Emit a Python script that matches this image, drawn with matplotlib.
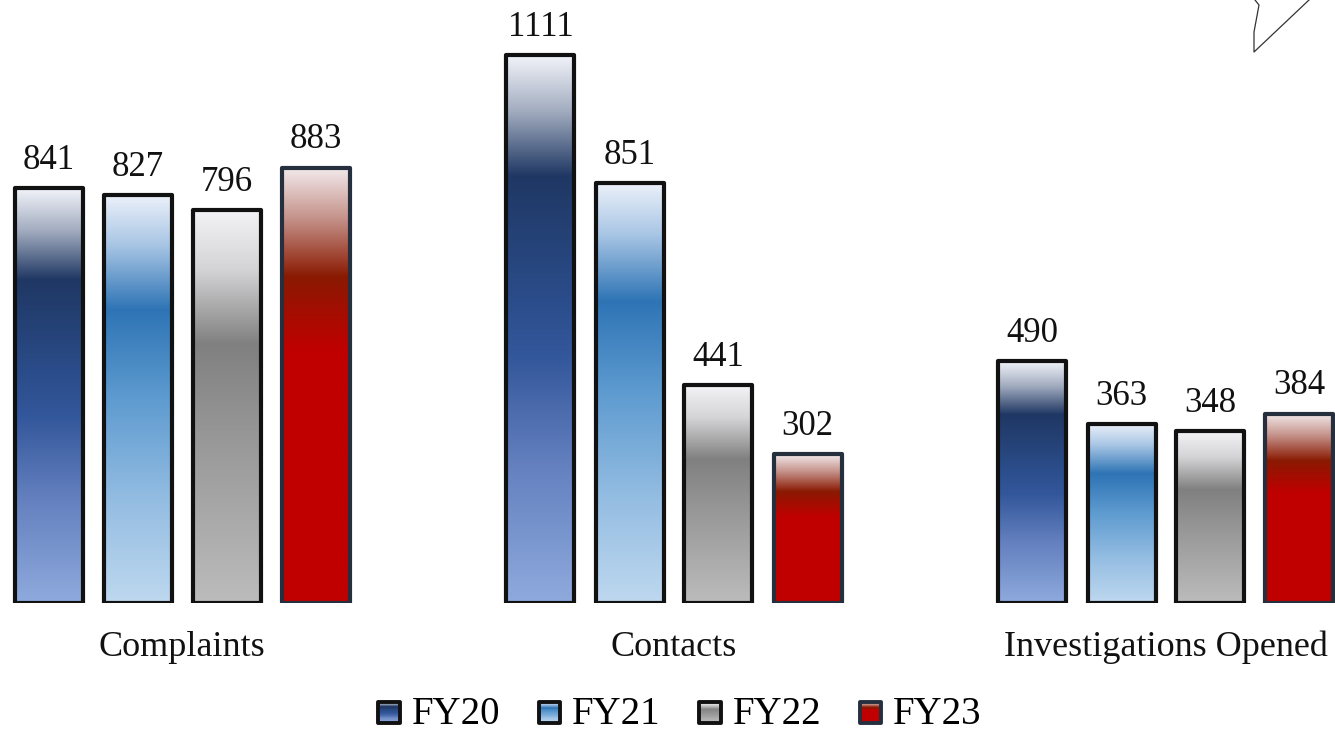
import numpy as np
import matplotlib
matplotlib.use("Agg")
import matplotlib.pyplot as plt
from matplotlib.colors import LinearSegmentedColormap
from matplotlib.patches import Rectangle
from matplotlib.legend_handler import HandlerBase

categories = ["Complaints", "Contacts", "Investigations Opened"]
series = ["FY20", "FY21", "FY22", "FY23"]
fy20 = [841, 1111, 490]
fy21 = [827, 851, 363]
fy22 = [796, 441, 348]
fy23 = [883, 302, 384]
values = [fy20, fy21, fy22, fy23]

# vertical gradient stops (position from top, colour) for each series
gradients = {
    "FY20": [(0.0, "#f1f3f9"), (0.10, "#a3adc0"), (0.22, "#1f3763"),
             (0.45, "#2b4d8b"), (0.55, "#33579b"), (0.75, "#6480bf"), (1.0, "#8eaadd")],
    "FY21": [(0.0, "#eaf0f9"), (0.12, "#a9c6e5"), (0.28, "#2e74b5"),
             (0.50, "#5e9bd0"), (0.75, "#94bde2"), (1.0, "#bed8ef")],
    "FY22": [(0.0, "#f3f3f5"), (0.15, "#d4d4d6"), (0.34, "#808080"),
             (0.55, "#959595"), (1.0, "#bcbcbc")],
    "FY23": [(0.0, "#f3eaec"), (0.12, "#c38f86"), (0.25, "#8a1a02"),
             (0.42, "#c00000"), (1.0, "#c00000")],
}
edges = {"FY20": "#111111", "FY21": "#111111", "FY22": "#111111", "FY23": "#262f3d"}

cmaps = {k: LinearSegmentedColormap.from_list(k, v) for k, v in gradients.items()}

plt.rcParams["font.family"] = ["Liberation Serif", "DejaVu Serif"]

W, H = 1335, 731
fig = plt.figure(figsize=(W / 100, H / 100), dpi=100)
base_px = 603
ax = fig.add_axes([0, (H - base_px) / H, 1, base_px / H])

group_px = 492.0
x_left = -182 / group_px
x_right = (W - 182) / group_px
ax.set_xlim(x_left, x_right)
ax.set_ylim(0, base_px / 0.4932)

offsets = np.array([-1.5, -0.5, 0.5, 1.5]) * (89 / group_px)
width = 68 / group_px
x = np.arange(len(categories))

grad = np.linspace(0, 1, 256).reshape(-1, 1)
for i, name in enumerate(series):
    xs = x + offsets[i]
    bars = ax.bar(xs, values[i], width=width, fill=False,
                  edgecolor=edges[name], linewidth=3.0, zorder=3,
                  joinstyle="round")
    for rect, v in zip(bars, values[i]):
        x0 = rect.get_x()
        ax.imshow(grad, cmap=cmaps[name], aspect="auto", origin="upper",
                  extent=(x0, x0 + rect.get_width(), 0, v),
                  interpolation="bilinear", zorder=2)
        ax.annotate(f"{v}", (rect.get_x() + rect.get_width() / 2, v),
                    xytext=(0, 20), textcoords="offset points",
                    ha="center", va="center", fontsize=25, color="#111111")

ax.set_xlim(x_left, x_right)
ax.set_ylim(0, base_px / 0.4932)
ax.set_xticks(x)
ax.set_xticklabels(categories, fontsize=26, color="#111111")
ax.tick_params(axis="x", length=0, pad=20)
ax.set_yticks([])
for s in ax.spines.values():
    s.set_visible(False)
ax.patch.set_alpha(0)


class GradientSquare(HandlerBase):
    def __init__(self, cmap, edge):
        super().__init__()
        self.cmap = cmap
        self.edge = edge

    def create_artists(self, legend, orig_handle, xdescent, ydescent,
                       width, height, fontsize, trans):
        side = min(width, height)
        x0 = -xdescent + (width - side) / 2
        y0 = -ydescent + (height - side) / 2 - 2
        n = 24
        arts = []
        for k in range(n):
            c = self.cmap(k / (n - 1))
            yk = y0 + side - (k + 1) * side / n
            arts.append(Rectangle((x0, yk), side, side / n + 0.3,
                                  facecolor=c, edgecolor="none", transform=trans))
        arts.append(Rectangle((x0, y0), side, side, facecolor="none",
                              edgecolor=self.edge, linewidth=2.8,
                              joinstyle="round", transform=trans))
        return arts


handles = [Rectangle((0, 0), 1, 1) for _ in series]
handler_map = {h: GradientSquare(cmaps[n], edges[n]) for h, n in zip(handles, series)}
fig.legend(handles, series, handler_map=handler_map, loc="center",
           bbox_to_anchor=(680 / W, 1 - 714 / H), ncol=4, frameon=False,
           fontsize=28, handlelength=0.55, handleheight=0.55,
           handletextpad=0.3, columnspacing=1.0)

# decorative stroke in the upper-right corner
px = np.array([1309, 1254, 1254, 1259, 1255])
py = np.array([0, 52, 32, 5, 0])
fig.add_artist(plt.Line2D(px / W, 1 - py / H, transform=fig.transFigure,
                          color="#333333", linewidth=0.9))

fig.savefig("out.png", dpi=100, facecolor="white")
